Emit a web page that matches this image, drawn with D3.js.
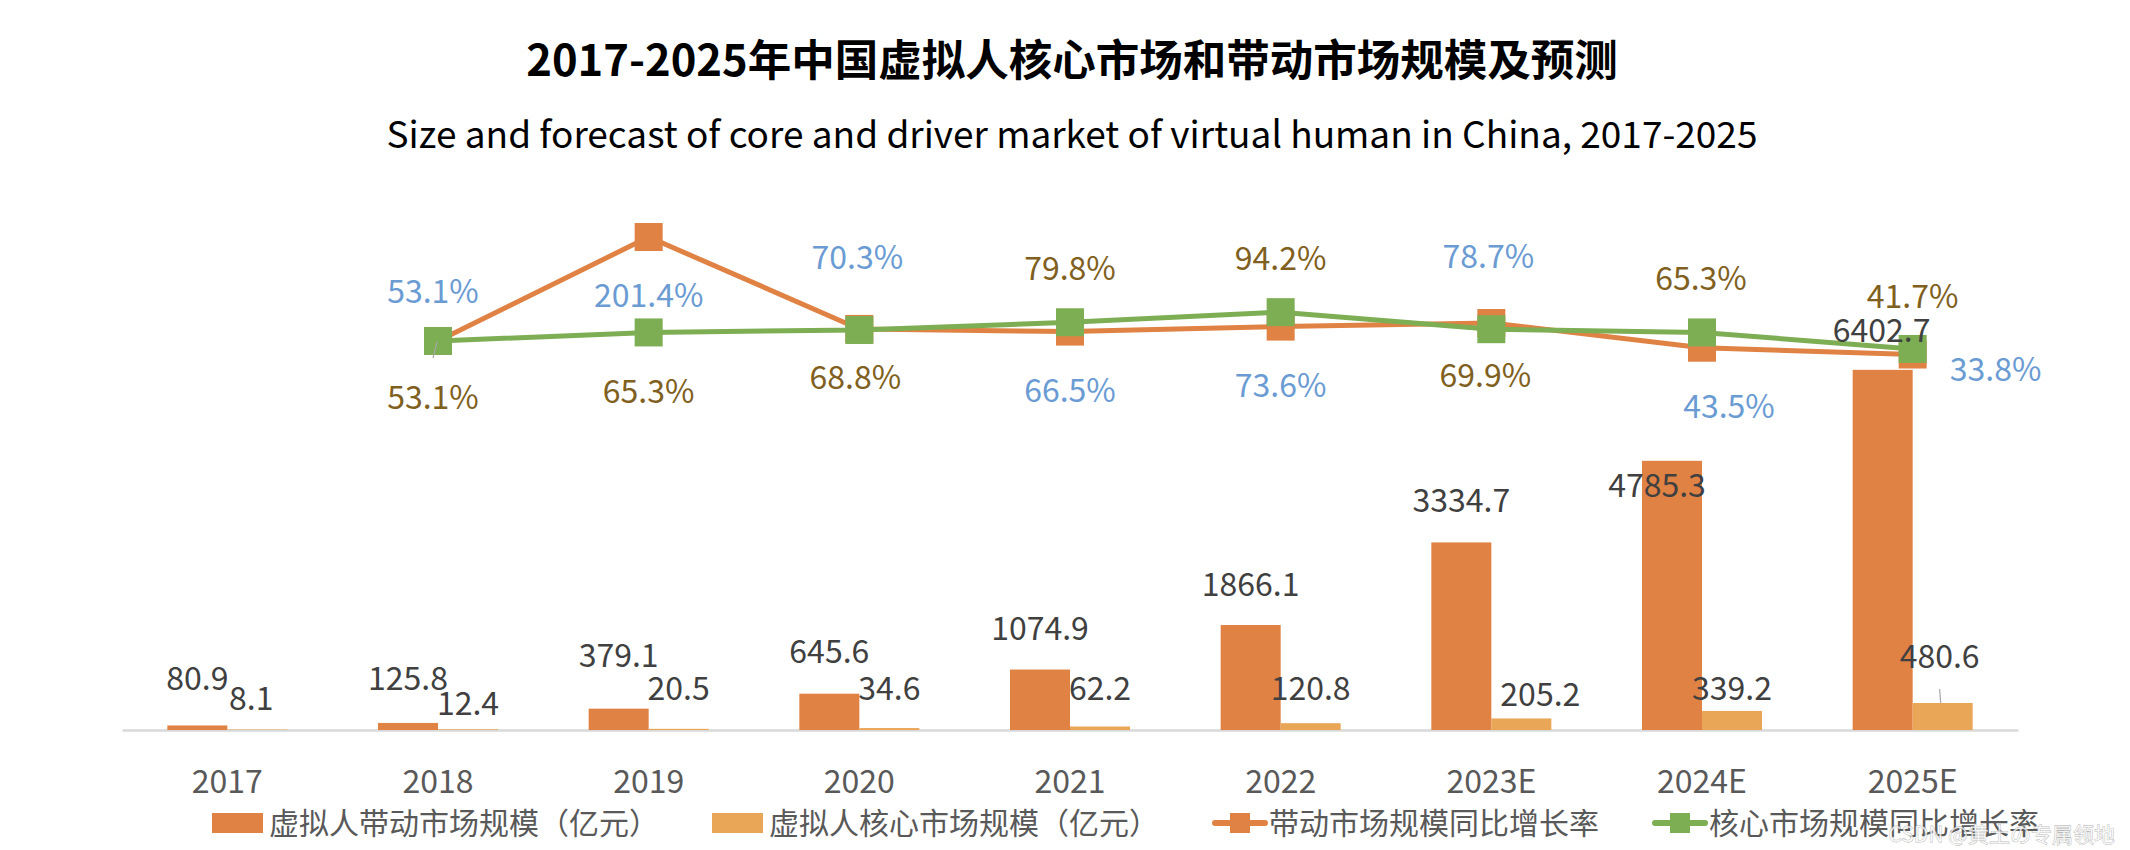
<!DOCTYPE html>
<html>
<head>
<meta charset="utf-8">
<script src="https://cdn.jsdelivr.net/npm/d3@7"></script>
<style>
  html, body { margin: 0; padding: 0; background: #fff; }
  svg { display: block; font-family: "Noto Sans CJK SC", "Noto Sans", sans-serif; }
</style>
</head>
<body>
<svg id="chart" width="2130" height="850"></svg>
<script>
// ---------------- DATA ----------------
const categories = ["2017", "2018", "2019", "2020", "2021", "2022", "2023E", "2024E", "2025E"];
const driverMarket = [80.9, 125.8, 379.1, 645.6, 1074.9, 1866.1, 3334.7, 4785.3, 6402.7];
const coreMarket = [8.1, 12.4, 20.5, 34.6, 62.2, 120.8, 205.2, 339.2, 480.6];
const growthCategories = ["2018", "2019", "2020", "2021", "2022", "2023E", "2024E", "2025E"];
const driverGrowth = [53.1, 201.4, 70.3, 66.5, 73.6, 78.7, 43.5, 33.8];
const coreGrowth = [53.1, 65.3, 68.8, 79.8, 94.2, 69.9, 65.3, 41.7];
const seriesNames = ["虚拟人带动市场规模（亿元）", "虚拟人核心市场规模（亿元）", "带动市场规模同比增长率", "核心市场规模同比增长率"];
const titleText = "2017-2025年中国虚拟人核心市场和带动市场规模及预测";
const subtitleText = "Size and forecast of core and driver market of virtual human in China, 2017-2025";
const watermarkText = "CSDN @黄土の专属领地";

// ---------------- LAYOUT / STYLE ----------------
const W = 2130, H = 850;
const plot = { left: 122, right: 2018, baseline: 730, barTop: 280 };
const colors = {
  driver: "#E08244", core: "#E9A657", coreLine: "#7DAE54",
  driverLbl: "#6A9BD3", coreLbl: "#7F6020", value: "#404040", axis: "#595959"
};
// manual data-label nudges (dx, dy relative to mark), as placed in the original
const driverBarLblOff = [[0,-35],[0,-33],[0,-42],[0,-31],[0,-30],[0,-29],[0,-30],[-15,36],[-1,-28]];
const coreBarLblOff   = [[-6,-20],[0,-14],[0,-29],[0,-28],[0,-27],[0,-23],[19,-12],[0,-11],[-3,-35]];
const driverPctOff = [[-5,-38],[0,70],[-2,-60],[0,70],[0,70],[-3,-55],[27,70],[83,26]];
const corePctOff   = [[-5,68],[0,71],[-4,59],[0,-42],[0,-42],[-6,58],[-1,-42],[0,-41]];

const svg = d3.select("#chart");

// titles
svg.append("text").attr("x", 1072).attr("y", 76).attr("text-anchor", "middle")
  .attr("font-size", 43.5).attr("font-weight", "bold").attr("fill", "#000").text(titleText);
svg.append("text").attr("x", 1072).attr("y", 148).attr("text-anchor", "middle")
  .attr("font-size", 37).attr("fill", "#000").text(subtitleText);

// scales
const x = d3.scaleBand().domain(categories).range([plot.left, plot.right]).paddingInner(0).paddingOuter(0);
const xSub = d3.scaleBand().domain(["driver", "core"]).range([0, x.bandwidth()]).paddingInner(0).paddingOuter(0.7556);
const yBar = d3.scaleLinear().domain([0, 8000]).range([plot.baseline, plot.barTop]);
const yPct = d3.scaleLinear().domain([0, 200]).range([378.2, 238]);
const cx = c => x(c) + x.bandwidth() / 2;

// axis
const xAxis = d3.axisBottom(x).tickSize(0).tickPadding(0);
const gx = svg.append("g").attr("transform", `translate(0,${plot.baseline})`).call(xAxis);
gx.select(".domain").attr("stroke", "#D9D9D9").attr("stroke-width", 2.5);
gx.selectAll(".tick text").attr("font-size", 32).attr("fill", colors.axis)
  .attr("font-family", "Noto Sans CJK SC").attr("dy", null).attr("y", 63);

// bars
const bars = svg.append("g");
bars.selectAll("rect.driver").data(driverMarket).join("rect").attr("class", "driver")
  .attr("x", (d, i) => x(categories[i]) + xSub("driver")).attr("width", xSub.bandwidth())
  .attr("y", d => yBar(d)).attr("height", d => yBar(0) - yBar(d)).attr("fill", colors.driver);
bars.selectAll("rect.core").data(coreMarket).join("rect").attr("class", "core")
  .attr("x", (d, i) => x(categories[i]) + xSub("core")).attr("width", xSub.bandwidth())
  .attr("y", d => yBar(d)).attr("height", d => yBar(0) - yBar(d)).attr("fill", colors.core);

// lines
function drawLine(values, color) {
  const g = svg.append("g");
  const line = d3.line().x((d, i) => cx(growthCategories[i])).y(d => yPct(d));
  g.append("path").datum(values).attr("d", line).attr("fill", "none")
    .attr("stroke", color).attr("stroke-width", 5).attr("stroke-linejoin", "round");
  g.selectAll("rect").data(values).join("rect")
    .attr("x", (d, i) => cx(growthCategories[i]) - 14).attr("y", d => yPct(d) - 14)
    .attr("width", 28).attr("height", 28).attr("fill", color);
}
drawLine(driverGrowth, colors.driver);
drawLine(coreGrowth, colors.coreLine);

// leader lines
svg.append("line").attr("x1", 433).attr("y1", 358).attr("x2", 437).attr("y2", 342)
  .attr("stroke", "#A6A6A6").attr("stroke-width", 1.2);
svg.append("line").attr("x1", cx(categories[8]) + xSub("core") - x.bandwidth()/2 + xSub.bandwidth()/2 - 3)
  .attr("y1", 689).attr("x2", cx(categories[8]) + 28).attr("y2", yBar(coreMarket[8]))
  .attr("stroke", "#A6A6A6").attr("stroke-width", 1.2);

// bar labels
const lbl = svg.append("g").attr("font-size", 32).attr("text-anchor", "middle");
lbl.selectAll("text.dl").data(driverMarket).join("text").attr("class", "dl")
  .attr("x", (d, i) => x(categories[i]) + xSub("driver") + xSub.bandwidth() / 2 + driverBarLblOff[i][0])
  .attr("y", (d, i) => yBar(d) + driverBarLblOff[i][1]).attr("fill", colors.value).text(d => d.toFixed(1));
lbl.selectAll("text.cl").data(coreMarket).join("text").attr("class", "cl")
  .attr("x", (d, i) => x(categories[i]) + xSub("core") + xSub.bandwidth() / 2 + coreBarLblOff[i][0])
  .attr("y", (d, i) => yBar(d) + coreBarLblOff[i][1]).attr("fill", colors.value).text(d => d.toFixed(1));

// percentage labels
lbl.selectAll("text.dp").data(driverGrowth).join("text").attr("class", "dp")
  .attr("x", (d, i) => cx(growthCategories[i]) + driverPctOff[i][0])
  .attr("y", (d, i) => yPct(d) + driverPctOff[i][1]).attr("fill", colors.driverLbl).text(d => d.toFixed(1) + "%");
lbl.selectAll("text.cp").data(coreGrowth).join("text").attr("class", "cp")
  .attr("x", (d, i) => cx(growthCategories[i]) + corePctOff[i][0])
  .attr("y", (d, i) => yPct(d) + corePctOff[i][1]).attr("fill", colors.coreLbl).text(d => d.toFixed(1) + "%");

// legend
const legend = svg.append("g").attr("font-size", 30).attr("fill", colors.axis);
const legendKinds = ["bar", "bar", "line", "line"];
const legendColors = [colors.driver, colors.core, colors.driver, colors.coreLine];
let lx = 212;
const ly = 823;
seriesNames.forEach((name, i) => {
  if (legendKinds[i] === "bar") {
    legend.append("rect").attr("x", lx).attr("y", ly - 10).attr("width", 51).attr("height", 20).attr("fill", legendColors[i]);
  } else {
    legend.append("line").attr("x1", lx + 3).attr("x2", lx + 53).attr("y1", ly).attr("y2", ly)
      .attr("stroke", legendColors[i]).attr("stroke-width", 6).attr("stroke-linecap", "round");
    legend.append("rect").attr("x", lx + 18).attr("y", ly - 10).attr("width", 20).attr("height", 20).attr("fill", legendColors[i]);
  }
  const t = legend.append("text").attr("x", lx + 57).attr("y", ly + 11).text(name);
  lx = lx + 57 + t.node().getComputedTextLength() + 53;
});

// watermark
svg.append("text").attr("x", 2115).attr("y", 842).attr("text-anchor", "end")
  .attr("font-size", 21).attr("fill", "rgba(255,255,255,0.75)").attr("stroke", "rgba(120,120,120,0.55)")
  .attr("stroke-width", 0.8).attr("paint-order", "stroke").text(watermarkText);
</script>
</body>
</html>
